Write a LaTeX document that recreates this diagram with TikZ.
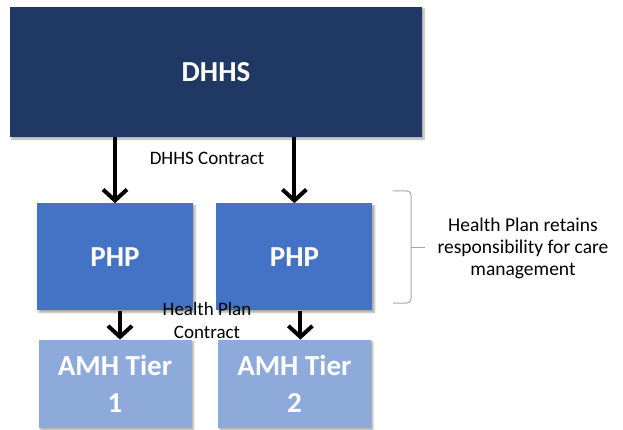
\documentclass[tikz,border=0pt]{standalone}
\usepackage{fontspec}
\setmainfont{Carlito}
\usepackage{tikz}
\usetikzlibrary{positioning,arrows.meta,shadows.blur}
\definecolor{dhhsblue}{HTML}{203864}
\definecolor{phpblue}{HTML}{4472C4}
\definecolor{amhblue}{HTML}{8EAADB}
\definecolor{bracegray}{HTML}{A6A6A6}
\tikzstyle{box} = [rectangle, inner sep=0pt, text=white, align=center,
  font=\fontsize{29}{37}\selectfont\bfseries,
  blur shadow={shadow xshift=2pt, shadow yshift=-2pt, shadow blur steps=4, shadow opacity=35}]
\tikzstyle{top} = [box, fill=dhhsblue, minimum width=412pt, minimum height=130pt]
\tikzstyle{php} = [box, fill=phpblue, minimum width=156pt, minimum height=107pt]
\tikzstyle{amh} = [box, fill=amhblue, minimum width=153pt, minimum height=88pt]
\tikzstyle{note} = [align=center, font=\fontsize{19}{23}\selectfont]
\tikzstyle{link} = [-{Straight Barb[length=11pt, width=24pt]}, line width=4pt]

\begin{document}
\begin{tikzpicture}[x=1pt, y=-1pt]
    \useasboundingbox (0,0) rectangle (623,430);
    \node [top] (dhhs) at (216,72) {DHHS};
    \node [php, below right=66pt and 27pt of dhhs.south west] (php1) {PHP};
    \node [php, right=23pt of php1] (php2) {PHP};
    \node [amh, below=29pt of php1] (amh1) {AMH Tier\\1};
    \node [amh, below=29pt of php2] (amh2) {AMH Tier\\2};
    \draw [link] (dhhs.south -| php1.north) -- (php1.north);
    \draw [link] (dhhs.south -| php2.north) -- (php2.north);
    \draw [link] ([xshift=5pt]php1.south) -- ([xshift=5pt]php1.south |- amh1.north);
    \draw [link] ([xshift=6pt]php2.south) -- ([xshift=6pt]php2.south |- amh2.north);
    \node [note] (dhhscontract) at (207,158) {DHHS Contract};
    \node [note] (hpcontract) at (207,320) {Health Plan\\Contract};
    % brace round the two PHP boxes
    \draw [bracegray, line width=1pt, rounded corners=4pt]
      (393,191) -- (411,191) -- (411,247) -- (411,303) -- (393,303);
    \draw [bracegray, line width=1pt] (411,247) -- (425,247);
    \node [note, font=\fontsize{19.5}{22}\selectfont] (retains) at (523,248)
      {Health Plan retains\\responsibility for care\\management};
\end{tikzpicture}
\end{document}
